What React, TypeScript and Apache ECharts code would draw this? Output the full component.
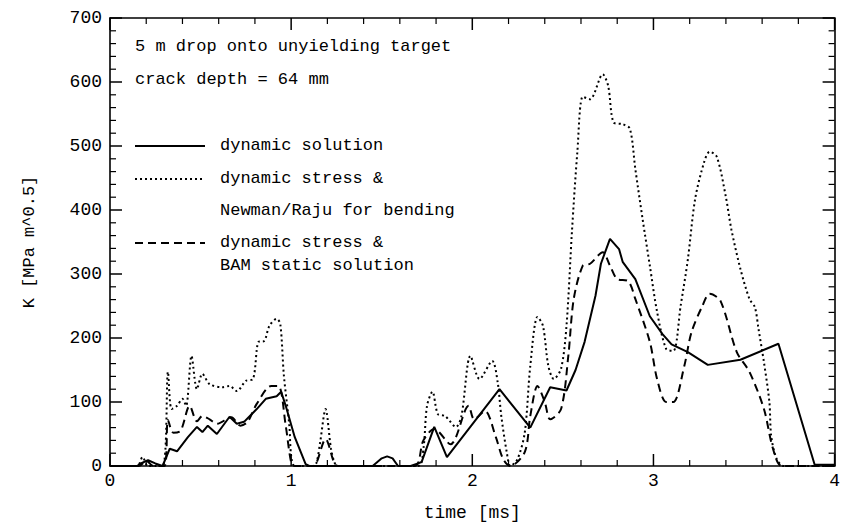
import React, { useEffect, useRef } from "react";
import * as echarts from "echarts";

const solidT = [0, 0.15, 0.17, 0.21, 0.25, 0.29, 0.33, 0.37, 0.43, 0.48, 0.51, 0.54, 0.59, 0.66, 0.70, 0.74, 0.81, 0.86, 0.92, 0.945, 0.97, 1.02, 1.08, 1.10, 1.45, 1.50, 1.53, 1.56, 1.59, 1.66, 1.72, 1.79, 1.86, 2.15, 2.32, 2.43, 2.52, 2.57, 2.62, 2.68, 2.71, 2.76, 2.81, 2.83, 2.90, 2.98, 3.05, 3.10, 3.19, 3.30, 3.48, 3.69, 3.89, 4.0];
const solidK = [0, 0, 4, 9, 4, 0, 27, 23, 45, 61, 53, 63, 50, 77, 66, 69, 89, 105, 109, 116, 94, 45, 3, 0, 0, 12, 15, 12, 0, 0, 6, 61, 14, 120, 60, 123, 118, 150, 194, 266, 316, 355, 339, 319, 292, 234, 206, 190, 178, 158, 166, 191, 2, 2];

const dashedT = [0, 0.16, 0.20, 0.24, 0.30, 0.32, 0.35, 0.39, 0.44, 0.48, 0.51, 0.55, 0.59, 0.67, 0.72, 0.76, 0.81, 0.89, 0.93, 0.97, 1.00, 1.02, 1.12, 1.14, 1.19, 1.24, 1.26, 1.68, 1.73, 1.79, 1.88, 1.98, 2.01, 2.07, 2.13, 2.17, 2.21, 2.29, 2.32, 2.36, 2.40, 2.43, 2.49, 2.53, 2.56, 2.61, 2.65, 2.72, 2.76, 2.80, 2.86, 2.90, 2.98, 3.02, 3.07, 3.11, 3.17, 3.21, 3.27, 3.31, 3.37, 3.46, 3.53, 3.61, 3.66, 3.71, 4.0];
const dashedK = [0, 0, 8, 0, 0, 72, 52, 55, 94, 70, 78, 73, 66, 76, 63, 69, 97, 125, 125, 63, 6, 0, 0, 5, 42, 3, 0, 0, 40, 58, 34, 94, 73, 86, 45, 11, 0, 22, 78, 125, 100, 73, 89, 172, 261, 313, 316, 334, 313, 292, 289, 261, 194, 136, 100, 100, 156, 209, 250, 269, 258, 178, 147, 89, 27, 0, 0];

const dottedT = [0, 0.15, 0.18, 0.21, 0.29, 0.32, 0.34, 0.37, 0.40, 0.42, 0.45, 0.48, 0.51, 0.55, 0.62, 0.66, 0.70, 0.75, 0.79, 0.82, 0.85, 0.88, 0.92, 0.94, 0.96, 0.99, 1.00, 1.02, 1.12, 1.14, 1.16, 1.19, 1.22, 1.24, 1.26, 1.70, 1.73, 1.75, 1.78, 1.81, 1.85, 1.91, 1.94, 1.99, 2.04, 2.11, 2.14, 2.16, 2.19, 2.21, 2.25, 2.29, 2.32, 2.36, 2.39, 2.42, 2.45, 2.49, 2.52, 2.55, 2.58, 2.61, 2.65, 2.72, 2.75, 2.78, 2.83, 2.87, 2.90, 2.94, 2.98, 3.02, 3.07, 3.11, 3.15, 3.19, 3.23, 3.28, 3.31, 3.35, 3.40, 3.43, 3.48, 3.53, 3.56, 3.58, 3.61, 3.64, 3.65, 3.68, 3.72, 4.0];
const dottedK = [0, 0, 14, 0, 0, 147, 89, 94, 105, 94, 172, 120, 144, 128, 123, 125, 117, 133, 136, 194, 195, 219, 230, 222, 141, 63, 16, 0, 0, 5, 37, 89, 27, 5, 0, 0, 27, 94, 116, 81, 78, 61, 78, 172, 136, 164, 131, 78, 22, 0, 11, 53, 156, 233, 219, 156, 136, 152, 219, 366, 491, 577, 573, 612, 594, 537, 534, 527, 464, 386, 313, 241, 183, 180, 250, 323, 417, 475, 491, 483, 420, 370, 308, 261, 248, 214, 162, 100, 47, 11, 0, 0];

const xTicks = [0, 1, 2, 3, 4];
const yTicks = [0, 100, 200, 300, 400, 500, 600, 700];
const xTickMarks = [0, 0.2, 0.4, 0.6, 0.8, 1, 1.2, 1.4, 1.6, 1.8, 2, 2.2, 2.4, 2.6, 2.8, 3, 3.2, 3.4, 3.6, 3.8, 4];
const yTickMarks = [0, 20, 40, 60, 80, 100, 120, 140, 160, 180, 200, 220, 240, 260, 280, 300, 320, 340, 360, 380, 400, 420, 440, 460, 480, 500, 520, 540, 560, 580, 600, 620, 640, 660, 680, 700];

const annotations = ["5 m drop onto unyielding target", "crack depth = 64 mm"];
const legendItems = ["dynamic solution", "dynamic stress &", "Newman/Raju for bending", "dynamic stress &", "BAM static solution"];

const FONT = "Liberation Mono";
const X_MAX = 4;
const Y_MAX = 700;

const zip = (a: number[], b: number[]) => a.map((v, i) => [v, b[i]]);

export default function App() {
  const ref = useRef<HTMLDivElement>(null);
  useEffect(() => {
    if (!ref.current) return;
    const chart = echarts.init(ref.current, undefined, { renderer: "svg" });
    const axisLine = () => ({ show: true, onZero: false, lineStyle: { color: "#000", width: 1.6 } });
    const labelStyle = { color: "#000", fontFamily: FONT, fontSize: 18 };
    const textStyle = { fill: "#000", font: `17px "${FONT}"`, textVerticalAlign: "middle" };
    const lineY = [146, 179, 243];
    const textY = [146, 179, 211, 243, 266];
    const baseGraphic: any[] = [
      { type: "text", left: 135, top: 38, style: { ...textStyle, text: annotations[0] } },
      { type: "text", left: 135, top: 71, style: { ...textStyle, text: annotations[1] } },
      { type: "line", shape: { x1: 135, y1: lineY[0], x2: 205, y2: lineY[0] }, style: { stroke: "#000", lineWidth: 2 } },
      { type: "line", shape: { x1: 135, y1: lineY[1], x2: 205, y2: lineY[1] }, style: { stroke: "#000", lineWidth: 2, lineDash: [2, 3] } },
      { type: "line", shape: { x1: 135, y1: lineY[2], x2: 205, y2: lineY[2] }, style: { stroke: "#000", lineWidth: 2, lineDash: [8, 5] } },
      ...legendItems.map((t, i) => ({ type: "text", left: 220, top: textY[i] - 9, style: { ...textStyle, text: t } })),
    ];
    chart.setOption({
      animation: false,
      grid: { left: 110, right: 4, top: 18, bottom: 60 },
      xAxis: [
        {
          type: "value", min: 0, max: X_MAX, interval: 1, splitLine: { show: false },
          position: "bottom",
          name: "time [ms]",
          nameLocation: "middle",
          nameGap: 38,
          nameTextStyle: { color: "#000", fontFamily: FONT, fontSize: 18 },
          axisLine: axisLine(),
          axisTick: { show: false },
          axisLabel: { ...labelStyle, margin: 6, formatter: (v: number) => (xTicks.includes(v) ? String(v) : "") },
        },
        {
          type: "value", min: 0, max: X_MAX, interval: 1, splitLine: { show: false },
          position: "top",
          axisLine: axisLine(),
          axisTick: { show: false },
          axisLabel: { show: false },
        },
      ],
      yAxis: [
        {
          type: "value", min: 0, max: Y_MAX, interval: 100, splitLine: { show: false },
          position: "left",
          name: "K [MPa m^0.5]",
          nameLocation: "middle",
          nameGap: 72,
          nameRotate: 90,
          nameTextStyle: { color: "#000", fontFamily: FONT, fontSize: 17 },
          axisLine: axisLine(),
          axisTick: { show: false },
          axisLabel: { ...labelStyle, margin: 8, formatter: (v: number) => (yTicks.includes(v) ? String(v) : "") },
        },
        {
          type: "value", min: 0, max: Y_MAX, interval: 100, splitLine: { show: false },
          position: "right",
          axisLine: axisLine(),
          axisTick: { show: false },
          axisLabel: { show: false },
        },
      ],
      series: [
        {
          type: "line",
          data: zip(dottedT, dottedK),
          showSymbol: false,
          smooth: 0.3,
          lineStyle: { color: "#000", width: 2, type: [2, 3] },
        },
        {
          type: "line",
          data: zip(dashedT, dashedK),
          showSymbol: false,
          smooth: 0.3,
          lineStyle: { color: "#000", width: 2, type: [8, 5] },
        },
        {
          type: "line",
          data: zip(solidT, solidK),
          showSymbol: false,
          smooth: false,
          lineStyle: { color: "#000", width: 2 },
        },
      ],
      graphic: baseGraphic,
    });

    // tick marks placed through the chart's own scales
    const finder = { gridIndex: 0 };
    const toPx = (x: number, y: number) => chart.convertToPixel(finder as any, [x, y]) as number[];
    const tickLine = (x1: number, y1: number, x2: number, y2: number, major: boolean) => ({
      type: "line",
      z: 100,
      silent: true,
      shape: { x1, y1, x2, y2 },
      style: { stroke: "#000", lineWidth: major ? 1.5 : 1.2 },
    });
    const ticks: any[] = [];
    xTickMarks.forEach((v) => {
      const major = xTicks.includes(v);
      const len = major ? 12 : 6;
      const b = toPx(v, 0);
      const t = toPx(v, Y_MAX);
      if (!b || !t) return;
      ticks.push(tickLine(b[0], b[1], b[0], b[1] - len, major));
      ticks.push(tickLine(t[0], t[1], t[0], t[1] + len, major));
    });
    yTickMarks.forEach((v) => {
      const major = yTicks.includes(v);
      const len = major ? 12 : 6;
      const l = toPx(0, v);
      const r = toPx(X_MAX, v);
      if (!l || !r) return;
      ticks.push(tickLine(l[0], l[1], l[0] + len, l[1], major));
      ticks.push(tickLine(r[0], r[1], r[0] - len, r[1], major));
    });
    chart.setOption({ graphic: [...baseGraphic, ...ticks] });

    return () => chart.dispose();
  }, []);
  return <div ref={ref} style={{ width: 843, height: 527, position: "absolute", left: 0, top: 0, background: "#fff" }} />;
}
